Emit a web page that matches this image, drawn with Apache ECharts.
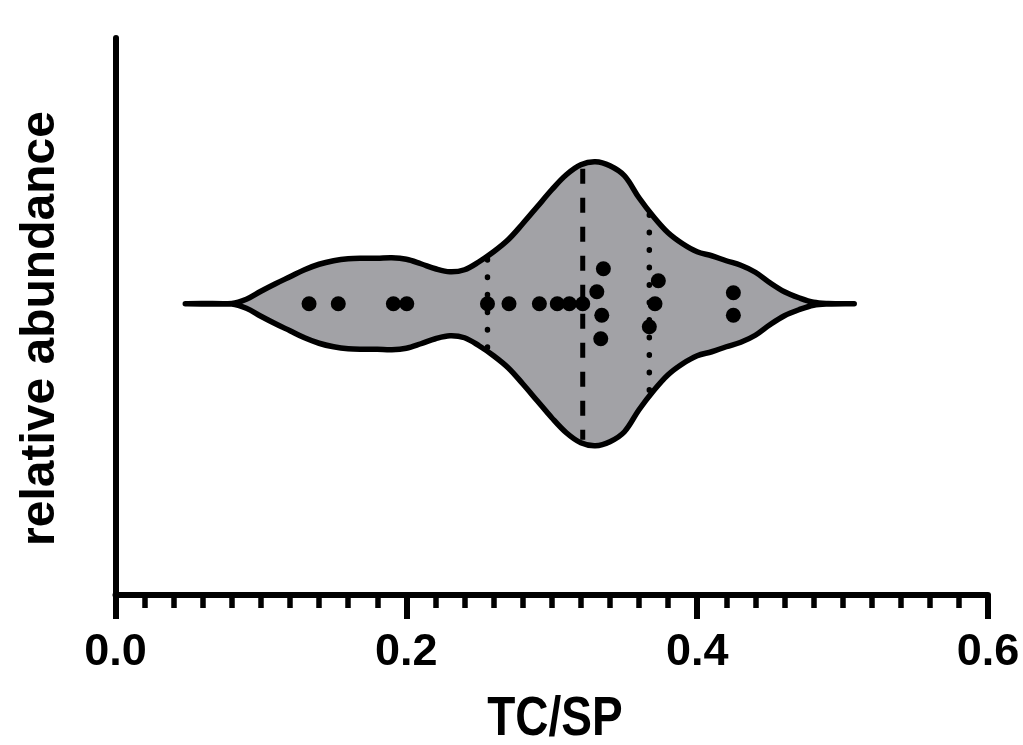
<!DOCTYPE html>
<html>
<head>
<meta charset="utf-8">
<script src="https://cdn.jsdelivr.net/npm/echarts@6/dist/echarts.min.js"></script>
<style>
html,body{margin:0;padding:0;background:#fff;}
#c{width:1023px;height:745px;}
</style>
</head>
<body>
<div id="c"></div>
<script>
// TC/SP values of the individual samples
const tcsp = [0.1331, 0.1532, 0.1911, 0.2003, 0.2558, 0.2706, 0.2915, 0.3038, 0.3121, 0.3213,
              0.3310, 0.3344, 0.3337, 0.3355, 0.3671, 0.3710, 0.3733, 0.4249, 0.4249];
// vertical swarm offset of each dot (relative abundance units)
const dotOffset = [0, 0, 0, 0, 0, 0, 0, 0, 0, 0,
                   0.12, -0.115, -0.35, 0.35, -0.23, 0, 0.23, 0.11, -0.115];
// violin outline: kernel density (half width) at TC/SP positions
const densX = [0.048, 0.08, 0.09, 0.10, 0.11, 0.12, 0.13, 0.14, 0.15, 0.16, 0.17, 0.18, 0.19, 0.20,
               0.21, 0.22, 0.23, 0.24, 0.25, 0.26, 0.27, 0.28, 0.29, 0.30, 0.31, 0.32, 0.33, 0.34,
               0.35, 0.36, 0.37, 0.38, 0.39, 0.40, 0.41, 0.42, 0.43, 0.44, 0.45, 0.46, 0.47, 0.48,
               0.49, 0.508];
const densHalf = [0, 0.003, 0.045, 0.125, 0.20, 0.27, 0.34, 0.395, 0.43, 0.45, 0.455, 0.455, 0.46, 0.445,
                  0.40, 0.35, 0.32, 0.34, 0.42, 0.52, 0.64, 0.80, 0.97, 1.14, 1.29, 1.39, 1.42, 1.38,
                  1.28, 1.06, 0.87, 0.71, 0.60, 0.52, 0.48, 0.43, 0.385, 0.315, 0.21, 0.12, 0.06, 0.015,
                  0.003, 0];
const xTicks = [0, 0.2, 0.4, 0.6];
const xTitle = 'TC/SP';
const yTitle = 'relative abundance';

// quartiles / median from the sample values
const sorted = tcsp.slice().sort((a, b) => a - b);
function quant(p) {
  const pos = p * (sorted.length + 1) - 1;
  const lo = Math.floor(pos), hi = Math.ceil(pos);
  return sorted[lo] + (sorted[hi] - sorted[lo]) * (pos - lo);
}
const stats = [
  {v: quant(0.25), type: 'q'},
  {v: quant(0.5), type: 'm'},
  {v: quant(0.75), type: 'q'}
];
function densAt(x) {
  for (let i = 0; i < densX.length - 1; i++) {
    if (x >= densX[i] && x <= densX[i + 1]) {
      const t = (x - densX[i]) / (densX[i + 1] - densX[i]);
      return densHalf[i] + t * (densHalf[i + 1] - densHalf[i]);
    }
  }
  return 0;
}

const FONT = '"Liberation Sans", Arial, Helvetica, sans-serif';
const chart = echarts.init(document.getElementById('c'), null, {renderer: 'canvas'});

chart.setOption({
  animation: false,
  backgroundColor: '#fff',
  grid: {left: 115.5, right: 35, top: 38, bottom: 150.5, containLabel: false, outerBoundsMode: 'none'},
  xAxis: {
    type: 'value', min: xTicks[0], max: xTicks[xTicks.length - 1], interval: 0.2,
    axisLine: {onZero: false, lineStyle: {color: '#000', width: 6}},
    axisTick: {show: true, length: 24.5, lineStyle: {color: '#000', width: 6}},
    minorTick: {show: true, splitNumber: 10, length: 13.5, lineStyle: {color: '#000', width: 5.5}},
    axisLabel: {
      formatter: v => v.toFixed(1), fontSize: 45, fontWeight: 'bold', color: '#000',
      fontFamily: FONT, margin: 36
    },
    splitLine: {show: false}, minorSplitLine: {show: false}
  },
  yAxis: {
    type: 'value', min: -2.9075, max: 2.6575,
    axisLine: {show: true, onZero: false, lineStyle: {color: '#000', width: 6}},
    axisTick: {show: false}, axisLabel: {show: false}, splitLine: {show: false}
  },
  graphic: [
    {type: 'text', x: 40.5, y: 328.5, rotation: Math.PI / 2,
     style: {text: yTitle, font: 'bold 48px ' + FONT, fill: '#000', align: 'center', verticalAlign: 'middle'}},
    {type: 'text', x: 555, y: 720, scaleY: 1.2,
     style: {text: xTitle, font: 'bold 46px ' + FONT, fill: '#000', align: 'center', verticalAlign: 'middle'}}
  ],
  series: [
    {
      type: 'custom', z: 2, silent: true,
      data: [[0.3, 0]],
      renderItem: function (params, api) {
        const pts = [];
        for (let i = 0; i < densX.length; i++) pts.push(api.coord([densX[i], densHalf[i]]));
        for (let i = densX.length - 1; i >= 0; i--) pts.push(api.coord([densX[i], -densHalf[i]]));
        return {
          type: 'polygon',
          shape: {points: pts, smooth: 0.35},
          style: {fill: '#a2a2a6', stroke: '#000', lineWidth: 5.5, lineJoin: 'round'}
        };
      }
    },
    {
      type: 'custom', z: 3, silent: true,
      data: stats.map(s => [s.v, 0]),
      renderItem: function (params, api) {
        const s = stats[params.dataIndex];
        const h = densAt(s.v) - 0.035;
        const p1 = api.coord([s.v, h]);
        const p2 = api.coord([s.v, -h]);
        const isM = s.type === 'm';
        return {
          type: 'line',
          shape: {x1: p1[0], y1: p1[1], x2: p2[0], y2: p2[1]},
          style: {
            stroke: '#000', lineWidth: isM ? 5 : 5.5,
            lineDash: isM ? [15, 14] : [0.5, 17],
            lineDashOffset: isM ? -1 : 0,
            lineCap: isM ? 'butt' : 'round'
          }
        };
      }
    },
    {
      type: 'scatter', z: 4, silent: true,
      symbol: 'circle', symbolSize: 15,
      itemStyle: {color: '#000', opacity: 1},
      data: tcsp.map((v, i) => [v, dotOffset[i]])
    }
  ]
});
</script>
</body>
</html>
